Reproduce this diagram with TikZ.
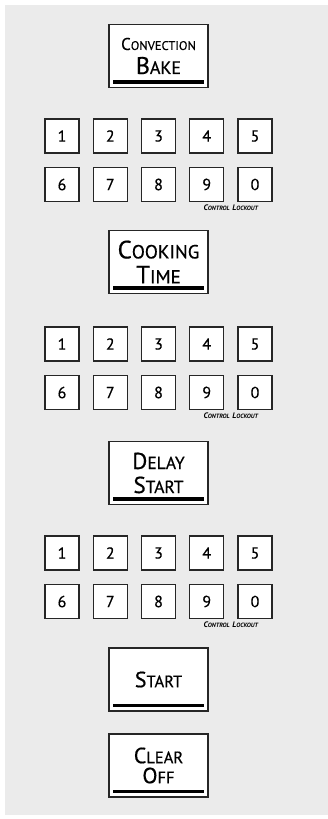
\documentclass[tikz,border=0pt]{standalone}
\usepackage{fontspec}
\setmainfont{PT Sans}[UprightFeatures={FakeBold=0.6}]
\usetikzlibrary{calc,positioning}
\definecolor{panelgray}{HTML}{EBEBEB}
\definecolor{keyedge}{HTML}{262626}
\newcommand{\scword}[4]{{\fontsize{#1}{#1}\selectfont #3}{\fontsize{#2}{#2}\selectfont #4}}

\begin{document}
\begin{tikzpicture}[
  x=1pt,
  y=-1pt,
  keybox/.style={draw=keyedge, fill=white, line width=1.3pt, minimum width=34pt,
    minimum height=34pt, inner sep=0pt, font=\fontsize{16}{16}\selectfont},
  modebox/.style={draw=keyedge, fill=white, line width=1.3pt, minimum width=99pt,
    minimum height=63pt, inner sep=0pt, align=center,
    font=\fontsize{12}{#1}\selectfont},
  modebox/.default=24,
  modebar/.style={black, line width=3.6pt},
  lockout/.style={font=\bfseries\itshape, inner sep=0pt, anchor=north}
]
\useasboundingbox (0,0) rectangle (328,819);
\fill[panelgray] (5,5) rectangle (328,815);

% =====================================================================
% convection bake and its keypad
% =====================================================================
\begin{scope}[yshift=0pt]
  \node[modebox] (bake) at (158.5,56)
    {\scword{17}{12.5}{C}{ONVECTION}\\\scword{24}{18}{B}{AKE}};
  \draw[modebar] ([xshift=5pt,yshift=6pt]bake.south west)
    -- ([xshift=-5pt,yshift=6pt]bake.south east);
  \foreach \d [count=\i from 0] in {1,2,3,4,5}
    \node[keybox] (bake-\d) at (158.5+48.25*\i-96.5,136) {\d};
  \foreach \d [count=\i from 0] in {6,7,8,9,0}
    \node[keybox] (bake-\d) at (158.5+48.25*\i-96.5,184.5) {\d};
  \node[lockout] (bake-lock) at ([yshift=-2pt]$(bake-9.south)!0.5!(bake-0.south)$)
    {\scword{8}{6.2}{C}{ONTROL} \scword{8}{6.2}{L}{OCKOUT}};
\end{scope}

% =====================================================================
% cooking time and its keypad
% =====================================================================
\begin{scope}[yshift=-208pt]
  \node[modebox=25] (cook) at (158.5,54)
    {\scword{25}{19}{C}{OOKING}\\\scword{25}{19}{T}{IME}};
  \draw[modebar] ([xshift=5pt,yshift=6pt]cook.south west)
    -- ([xshift=-5pt,yshift=6pt]cook.south east);
  \foreach \d [count=\i from 0] in {1,2,3,4,5}
    \node[keybox] (cook-\d) at (158.5+48.25*\i-96.5,136) {\d};
  \foreach \d [count=\i from 0] in {6,7,8,9,0}
    \node[keybox] (cook-\d) at (158.5+48.25*\i-96.5,184.5) {\d};
  \node[lockout] (cook-lock) at ([yshift=-2pt]$(cook-9.south)!0.5!(cook-0.south)$)
    {\scword{8}{6.2}{C}{ONTROL} \scword{8}{6.2}{L}{OCKOUT}};
\end{scope}

% =====================================================================
% delay start and its keypad
% =====================================================================
\begin{scope}[yshift=-417pt]
  \node[modebox] (delay) at (158.5,56)
    {\scword{23}{17.5}{D}{ELAY}\\\scword{23}{17.5}{S}{TART}};
  \draw[modebar] ([xshift=5pt,yshift=6pt]delay.south west)
    -- ([xshift=-5pt,yshift=6pt]delay.south east);
  \foreach \d [count=\i from 0] in {1,2,3,4,5}
    \node[keybox] (delay-\d) at (158.5+48.25*\i-96.5,136) {\d};
  \foreach \d [count=\i from 0] in {6,7,8,9,0}
    \node[keybox] (delay-\d) at (158.5+48.25*\i-96.5,184.5) {\d};
  \node[lockout] (delay-lock) at ([yshift=-2pt]$(delay-9.south)!0.5!(delay-0.south)$)
    {\scword{8}{6.2}{C}{ONTROL} \scword{8}{6.2}{L}{OCKOUT}};
\end{scope}

% =====================================================================
% start and clear/off
% =====================================================================
\node[modebox] (start) at (158.5,679.5) {\scword{22}{16.5}{S}{TART}};
\draw[modebar] ([xshift=5pt,yshift=6pt]start.south west)
  -- ([xshift=-5pt,yshift=6pt]start.south east);

\node[modebox=20] (clear) at (158.5,765.5)
  {\scword{22}{16.5}{C}{LEAR}\\\scword{22}{16.5}{O}{FF}};
\draw[modebar] ([xshift=5pt,yshift=6pt]clear.south west)
  -- ([xshift=-5pt,yshift=6pt]clear.south east);

\end{tikzpicture}
\end{document}
